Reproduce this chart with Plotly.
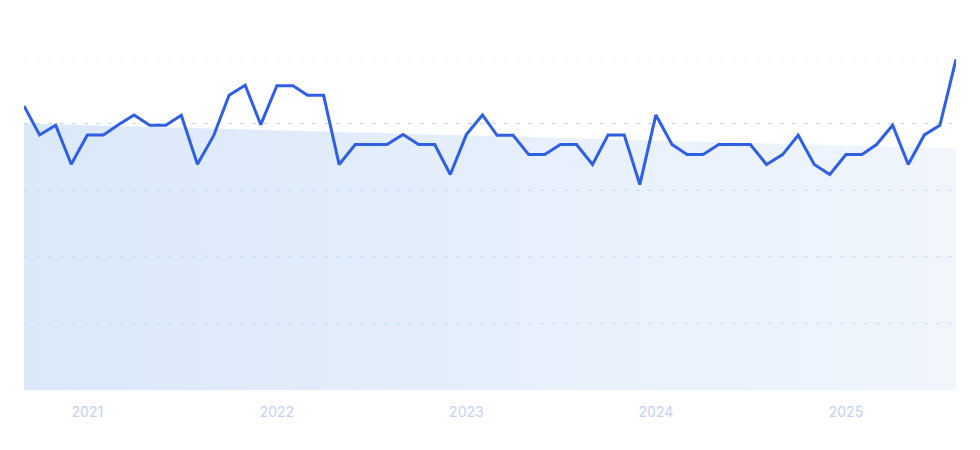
import pandas as pd
import plotly.graph_objects as go

# Monthly series, Sep 2020 - Aug 2025 (0-100 scale)
months = pd.date_range("2020-09-01", "2025-08-01", freq="MS")
values = [
    85.3, 76.6, 79.5, 67.8, 76.6, 76.6, 79.6, 82.6, 79.5, 79.5,
    82.5, 67.8, 76.3, 88.5, 91.5, 79.7, 91.4, 91.4, 88.5, 88.5,
    67.7, 73.7, 73.7, 73.7, 76.7, 73.7, 73.7, 64.7, 76.7, 82.6,
    76.5, 76.5, 70.7, 70.7, 73.7, 73.7, 67.7, 76.6, 76.6, 61.7,
    82.6, 73.7, 70.7, 70.7, 73.7, 73.7, 73.7, 67.7, 70.7, 76.5,
    67.7, 64.7, 70.7, 70.7, 73.7, 79.5, 67.7, 76.6, 79.5, 99.3,
]

# Trend band (start / end values)
trend_dates = [months[0], months[-1]]
trend_values = [80.0, 72.5]

grid_levels = [20, 40, 60, 80, 100]
year_ticks = ["2021-01-01", "2022-01-01", "2023-01-01", "2024-01-01", "2025-01-01"]
year_labels = ["2021", "2022", "2023", "2024", "2025"]

fig = go.Figure()

# shaded trend area
fig.add_trace(go.Scatter(
    x=trend_dates,
    y=trend_values,
    mode="lines",
    line=dict(width=0),
    fill="tozeroy",
    fillgradient=dict(
        type="horizontal",
        colorscale=[[0, "#dae8fa"], [1, "#f1f6fd"]],
    ),
    hoverinfo="skip",
    showlegend=False,
))

# dashed gridlines, over the fill but under the line
for lvl in grid_levels:
    fig.add_trace(go.Scatter(
        x=[months[0], months[-1]],
        y=[lvl, lvl],
        mode="lines",
        line=dict(color="#c6d9f7" if lvl < 100 else "#e4edfb", width=1, dash="4px,8px"),
        hoverinfo="skip",
        showlegend=False,
    ))

# main line
fig.add_trace(go.Scatter(
    x=months,
    y=values,
    mode="lines",
    line=dict(color="#2f5fe3", width=3),
    showlegend=False,
))

fig.update_layout(
    width=980,
    height=450,
    margin=dict(l=16, r=32, t=49, b=68),
    paper_bgcolor="white",
    plot_bgcolor="white",
    font=dict(family="Inter, Roboto, sans-serif"),
)

fig.update_xaxes(
    range=[months[0], months[-1]],
    tickvals=year_ticks,
    ticktext=year_labels,
    tickfont=dict(size=14, color="#c6d0f1"),
    ticklabelstandoff=12,
    showgrid=False,
    zeroline=False,
    showline=False,
    ticks="",
)

fig.update_yaxes(
    range=[0, 100],
    showticklabels=False,
    showgrid=False,
    zeroline=False,
    showline=False,
)

fig.write_html("out.html")
